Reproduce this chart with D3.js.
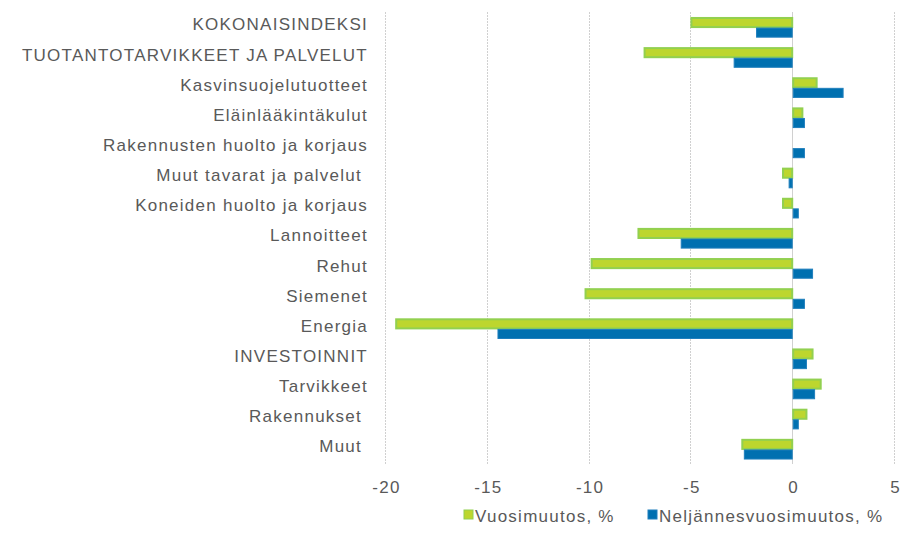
<!DOCTYPE html>
<html>
<head>
<meta charset="utf-8">
<script src="https://cdn.jsdelivr.net/npm/d3@7"></script>
<style>
  body { margin: 0; background: #fff; }
  text { font-family: "Liberation Sans", Arial, sans-serif; fill: #595959; letter-spacing: 1.25px; }
</style>
</head>
<body>
<svg></svg>
<script>
let categories = [
  "KOKONAISINDEKSI",
  "TUOTANTOTARVIKKEET JA PALVELUT",
  "Kasvinsuojelutuotteet",
  "Eläinlääkintäkulut",
  "Rakennusten huolto ja korjaus",
  "Muut tavarat ja palvelut ",
  "Koneiden huolto ja korjaus",
  "Lannoitteet",
  "Rehut",
  "Siemenet",
  "Energia",
  "INVESTOINNIT",
  "Tarvikkeet",
  "Rakennukset ",
  "Muut "
];
let yearly = [-5.0, -7.3, 1.2, 0.5, 0, -0.5, -0.5, -7.6, -9.9, -10.2, -19.5, 1.0, 1.4, 0.7, -2.5];
let quarterly = [-1.8, -2.9, 2.5, 0.6, 0.6, -0.2, 0.3, -5.5, 1.0, 0.6, -14.5, 0.7, 1.1, 0.3, -2.4];
let seriesNames = ["Vuosimuutos, %", "Neljännesvuosimuutos, %"];
let xTicks = [-20, -15, -10, -5, 0, 5];

let width = 901;
let height = 537;
let plotTop = 12;
let plotBottom = 464;
let plotLeft = 385;
let plotRight = 894;

let colors = [
  { fill: "#bdd62e", stroke: "#92d050" },
  { fill: "#0070b0", stroke: "#1f7fbd" }
];

let svg = d3.select("svg").attr("width", width).attr("height", height);

let xScale = d3.scaleLinear().domain([-20, 5]).range([plotLeft, plotRight]);
let yScale = d3.scaleBand().domain(categories).range([plotTop, plotBottom]).paddingInner(0.33).paddingOuter(0.165);
let inner = d3.scaleBand().domain([0, 1]).range([0, yScale.bandwidth()]);

// gridlines
svg.append("g")
  .selectAll("line")
  .data(xTicks)
  .enter()
  .append("line")
  .attr("x1", (d) => Math.round(xScale(d)) + 0.5)
  .attr("x2", (d) => Math.round(xScale(d)) + 0.5)
  .attr("y1", plotTop)
  .attr("y2", plotBottom)
  .attr("stroke", "#d0d0d0")
  .attr("stroke-dasharray", (d) => (d === 0 ? null : "2,1"));

// bars
let rows = categories.map((c, i) => ({ cat: c, vals: [yearly[i], quarterly[i]] }));
let groups = svg.append("g")
  .selectAll("g")
  .data(rows)
  .enter()
  .append("g")
  .attr("transform", (d) => "translate(0," + yScale(d.cat) + ")");

groups.selectAll("rect")
  .data((d) => d.vals.map((v, k) => ({ v: v, k: k })).filter((e) => e.v !== 0))
  .enter()
  .append("rect")
  .attr("x", (d) => xScale(Math.min(0, d.v)) + 1)
  .attr("y", (d) => inner(d.k) + 1)
  .attr("width", (d) => Math.max(0, Math.abs(xScale(d.v) - xScale(0)) - 1))
  .attr("height", inner.bandwidth() - 1)
  .attr("fill", (d) => colors[d.k].fill)
  .attr("stroke", (d) => colors[d.k].stroke)
  .attr("stroke-width", (d) => (d.k === 0 ? 2 : 1));

// category labels
let yAxis = d3.axisLeft(yScale).tickSize(0).tickPadding(0);
svg.append("g")
  .attr("transform", "translate(368,0)")
  .call(yAxis)
  .call((g) => g.select(".domain").remove())
  .selectAll("text")
  .attr("font-size", 17)
  .attr("dy", "0.2em")
  .style("white-space", "pre")
  .attr("font-family", null);

// x axis labels
let xAxis = d3.axisBottom(xScale).tickValues(xTicks).tickSize(0).tickPadding(0).tickFormat(d3.format("d"));
svg.append("g")
  .attr("transform", "translate(1,481)")
  .call(xAxis)
  .call((g) => g.select(".domain").remove())
  .selectAll("text")
  .attr("font-size", 17)
  .attr("font-family", null)
  .text((d) => String(d));

// legend
let legendX = [464, 648];
let legend = svg.append("g")
  .selectAll("g")
  .data(seriesNames)
  .enter()
  .append("g")
  .attr("transform", (d, i) => "translate(" + legendX[i] + ",0)");

legend.append("rect")
  .attr("x", 0)
  .attr("y", 510)
  .attr("width", 9)
  .attr("height", 9)
  .attr("fill", (d, i) => colors[i].fill)
  .attr("stroke", (d, i) => colors[i].stroke);

legend.append("text")
  .attr("x", 11)
  .attr("y", 522)
  .attr("font-size", 17)
  .text((d) => d);
</script>
</body>
</html>
